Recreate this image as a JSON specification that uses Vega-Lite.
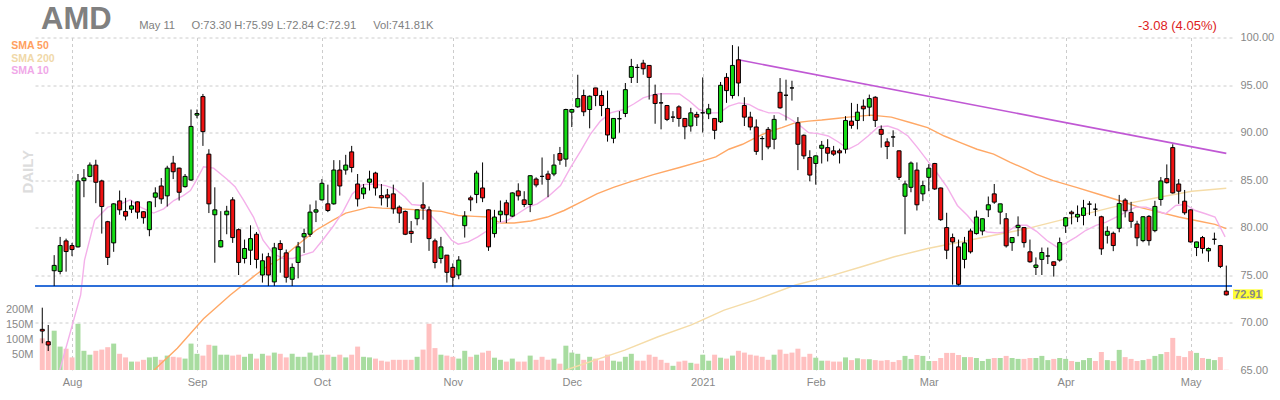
{
  "$schema": "https://vega.github.io/schema/vega-lite/v6.json",
  "width": 1197,
  "height": 332.5,
  "autosize": {"type": "none"},
  "padding": {"left": 35, "top": 37.5, "right": 48, "bottom": 30},
  "background": "white",
  "config": {
    "view": {"stroke": null},
    "font": "Liberation Sans",
    "axis": {"labelFont": "Liberation Sans", "labelFontSize": 11, "labelColor": "#888888", "domain": false, "ticks": false, "title": null}
  },
  "datasets": {
    "px": [
      {"date": "2020-07-27", "n": -2, "o": 69.28, "h": 71.56, "l": 67.81, "c": 69.1, "v": 105.6, "dir": "d"},
      {"date": "2020-07-28", "n": -1, "o": 67.98, "h": 69.74, "l": 67.0, "c": 67.63, "v": 95, "dir": "d"},
      {"date": "2020-07-29", "n": 0, "o": 75.45, "h": 77.09, "l": 73.85, "c": 76.01, "v": 131, "dir": "u"},
      {"date": "2020-07-30", "n": 1, "o": 75.38, "h": 79.01, "l": 75.07, "c": 78.1, "v": 78, "dir": "u"},
      {"date": "2020-07-31", "n": 2, "o": 78.59, "h": 78.83, "l": 75.35, "c": 77.47, "v": 71, "dir": "d"},
      {"date": "2020-08-03", "n": 3, "o": 78.1, "h": 78.38, "l": 76.99, "c": 77.68, "v": 42, "dir": "d"},
      {"date": "2020-08-04", "n": 4, "o": 77.96, "h": 85.63, "l": 77.9, "c": 84.9, "v": 154, "dir": "u"},
      {"date": "2020-08-05", "n": 5, "o": 84.93, "h": 86.15, "l": 83.19, "c": 85.21, "v": 64, "dir": "u"},
      {"date": "2020-08-06", "n": 6, "o": 85.38, "h": 86.85, "l": 85.3, "c": 86.57, "v": 51, "dir": "u"},
      {"date": "2020-08-07", "n": 7, "o": 86.57, "h": 87.13, "l": 82.56, "c": 84.76, "v": 64, "dir": "d"},
      {"date": "2020-08-10", "n": 8, "o": 84.9, "h": 85.03, "l": 79.36, "c": 82.21, "v": 68, "dir": "d"},
      {"date": "2020-08-11", "n": 9, "o": 80.61, "h": 80.7, "l": 76.05, "c": 76.85, "v": 76, "dir": "d"},
      {"date": "2020-08-12", "n": 10, "o": 78.38, "h": 82.55, "l": 77.44, "c": 82.49, "v": 88, "dir": "u"},
      {"date": "2020-08-13", "n": 11, "o": 82.8, "h": 83.89, "l": 81.34, "c": 81.86, "v": 54, "dir": "d"},
      {"date": "2020-08-14", "n": 12, "o": 81.69, "h": 83.12, "l": 80.75, "c": 81.2, "v": 42, "dir": "d"},
      {"date": "2020-08-17", "n": 13, "o": 81.93, "h": 82.84, "l": 81.52, "c": 82.28, "v": 28, "dir": "u"},
      {"date": "2020-08-18", "n": 14, "o": 82.7, "h": 82.75, "l": 80.92, "c": 81.62, "v": 28, "dir": "d"},
      {"date": "2020-08-19", "n": 15, "o": 81.66, "h": 81.7, "l": 80.4, "c": 81.03, "v": 34, "dir": "d"},
      {"date": "2020-08-20", "n": 16, "o": 79.77, "h": 82.75, "l": 79.08, "c": 82.7, "v": 42, "dir": "u"},
      {"date": "2020-08-21", "n": 17, "o": 83.19, "h": 84.23, "l": 82.14, "c": 83.64, "v": 44, "dir": "u"},
      {"date": "2020-08-24", "n": 18, "o": 84.37, "h": 85.21, "l": 82.49, "c": 83.01, "v": 34, "dir": "d"},
      {"date": "2020-08-25", "n": 19, "o": 83.33, "h": 86.5, "l": 82.21, "c": 86.25, "v": 48, "dir": "u"},
      {"date": "2020-08-26", "n": 20, "o": 86.78, "h": 87.54, "l": 85.1, "c": 85.87, "v": 44, "dir": "d"},
      {"date": "2020-08-27", "n": 21, "o": 86.25, "h": 86.3, "l": 82.84, "c": 83.71, "v": 42, "dir": "d"},
      {"date": "2020-08-28", "n": 22, "o": 84.3, "h": 85.63, "l": 84.2, "c": 85.38, "v": 38, "dir": "u"},
      {"date": "2020-08-31", "n": 23, "o": 85.0, "h": 92.42, "l": 84.9, "c": 90.64, "v": 88, "dir": "u"},
      {"date": "2020-09-01", "n": 24, "o": 91.83, "h": 92.42, "l": 91.5, "c": 92.0, "v": 54, "dir": "u"},
      {"date": "2020-09-02", "n": 25, "o": 93.78, "h": 94.06, "l": 88.59, "c": 90.09, "v": 48, "dir": "d"},
      {"date": "2020-09-03", "n": 26, "o": 87.72, "h": 88.24, "l": 81.52, "c": 82.49, "v": 84, "dir": "d"},
      {"date": "2020-09-04", "n": 27, "o": 81.34, "h": 84.23, "l": 76.29, "c": 81.86, "v": 81, "dir": "u"},
      {"date": "2020-09-08", "n": 28, "o": 77.96, "h": 81.72, "l": 77.9, "c": 78.62, "v": 51, "dir": "u"},
      {"date": "2020-09-09", "n": 29, "o": 81.34, "h": 82.28, "l": 79.29, "c": 81.72, "v": 51, "dir": "u"},
      {"date": "2020-09-10", "n": 30, "o": 82.91, "h": 83.19, "l": 78.38, "c": 78.94, "v": 48, "dir": "d"},
      {"date": "2020-09-11", "n": 31, "o": 79.77, "h": 79.9, "l": 75.0, "c": 76.32, "v": 51, "dir": "d"},
      {"date": "2020-09-14", "n": 32, "o": 76.74, "h": 78.73, "l": 76.22, "c": 77.79, "v": 44, "dir": "u"},
      {"date": "2020-09-15", "n": 33, "o": 77.61, "h": 80.23, "l": 76.05, "c": 78.83, "v": 54, "dir": "u"},
      {"date": "2020-09-16", "n": 34, "o": 79.29, "h": 79.53, "l": 75.7, "c": 76.64, "v": 38, "dir": "d"},
      {"date": "2020-09-17", "n": 35, "o": 75.0, "h": 77.26, "l": 74.2, "c": 76.5, "v": 54, "dir": "u"},
      {"date": "2020-09-18", "n": 36, "o": 76.92, "h": 77.33, "l": 73.85, "c": 75.0, "v": 48, "dir": "d"},
      {"date": "2020-09-21", "n": 37, "o": 74.27, "h": 78.38, "l": 73.85, "c": 77.86, "v": 58, "dir": "u"},
      {"date": "2020-09-22", "n": 38, "o": 78.31, "h": 78.66, "l": 75.24, "c": 77.68, "v": 54, "dir": "d"},
      {"date": "2020-09-23", "n": 39, "o": 77.33, "h": 77.68, "l": 74.2, "c": 74.76, "v": 42, "dir": "d"},
      {"date": "2020-09-24", "n": 40, "o": 74.55, "h": 76.22, "l": 73.85, "c": 75.8, "v": 54, "dir": "u"},
      {"date": "2020-09-25", "n": 41, "o": 76.32, "h": 78.48, "l": 74.65, "c": 77.96, "v": 44, "dir": "u"},
      {"date": "2020-09-28", "n": 42, "o": 79.01, "h": 79.88, "l": 77.33, "c": 79.36, "v": 44, "dir": "u"},
      {"date": "2020-09-29", "n": 43, "o": 79.29, "h": 82.42, "l": 79.0, "c": 81.62, "v": 58, "dir": "u"},
      {"date": "2020-09-30", "n": 44, "o": 81.62, "h": 82.84, "l": 80.57, "c": 81.86, "v": 48, "dir": "u"},
      {"date": "2020-10-01", "n": 45, "o": 82.91, "h": 85.1, "l": 82.84, "c": 84.65, "v": 51, "dir": "u"},
      {"date": "2020-10-02", "n": 46, "o": 82.49, "h": 84.51, "l": 81.62, "c": 81.79, "v": 51, "dir": "d"},
      {"date": "2020-10-05", "n": 47, "o": 82.49, "h": 87.09, "l": 82.4, "c": 86.05, "v": 44, "dir": "u"},
      {"date": "2020-10-06", "n": 48, "o": 86.05, "h": 87.09, "l": 83.36, "c": 84.37, "v": 51, "dir": "d"},
      {"date": "2020-10-07", "n": 49, "o": 86.05, "h": 87.65, "l": 85.56, "c": 86.57, "v": 42, "dir": "u"},
      {"date": "2020-10-08", "n": 50, "o": 87.96, "h": 88.59, "l": 85.8, "c": 86.32, "v": 51, "dir": "d"},
      {"date": "2020-10-09", "n": 51, "o": 84.58, "h": 85.63, "l": 82.21, "c": 83.01, "v": 78, "dir": "d"},
      {"date": "2020-10-12", "n": 52, "o": 83.54, "h": 84.58, "l": 83.01, "c": 84.16, "v": 44, "dir": "u"},
      {"date": "2020-10-13", "n": 53, "o": 84.76, "h": 85.98, "l": 83.89, "c": 85.1, "v": 42, "dir": "u"},
      {"date": "2020-10-14", "n": 54, "o": 85.73, "h": 85.87, "l": 83.36, "c": 84.16, "v": 38, "dir": "d"},
      {"date": "2020-10-15", "n": 55, "o": 83.36, "h": 84.58, "l": 82.32, "c": 83.12, "v": 31, "dir": "d"},
      {"date": "2020-10-16", "n": 56, "o": 83.43, "h": 84.06, "l": 82.14, "c": 83.12, "v": 28, "dir": "d"},
      {"date": "2020-10-19", "n": 57, "o": 83.54, "h": 84.51, "l": 81.45, "c": 81.97, "v": 34, "dir": "d"},
      {"date": "2020-10-20", "n": 58, "o": 82.14, "h": 82.32, "l": 80.47, "c": 81.52, "v": 34, "dir": "d"},
      {"date": "2020-10-21", "n": 59, "o": 81.69, "h": 81.79, "l": 79.2, "c": 79.29, "v": 34, "dir": "d"},
      {"date": "2020-10-22", "n": 60, "o": 79.6, "h": 80.68, "l": 78.38, "c": 79.36, "v": 34, "dir": "d"},
      {"date": "2020-10-23", "n": 61, "o": 80.92, "h": 81.9, "l": 80.23, "c": 81.86, "v": 44, "dir": "u"},
      {"date": "2020-10-26", "n": 62, "o": 82.39, "h": 84.76, "l": 80.82, "c": 82.04, "v": 68, "dir": "d"},
      {"date": "2020-10-27", "n": 63, "o": 81.86, "h": 82.21, "l": 77.54, "c": 78.83, "v": 154, "dir": "d"},
      {"date": "2020-10-28", "n": 64, "o": 78.59, "h": 78.83, "l": 75.7, "c": 76.32, "v": 73, "dir": "d"},
      {"date": "2020-10-29", "n": 65, "o": 76.74, "h": 79.01, "l": 76.22, "c": 77.96, "v": 51, "dir": "u"},
      {"date": "2020-10-30", "n": 66, "o": 77.09, "h": 77.1, "l": 74.2, "c": 75.28, "v": 48, "dir": "d"},
      {"date": "2020-11-02", "n": 67, "o": 75.8, "h": 76.22, "l": 73.78, "c": 74.76, "v": 44, "dir": "d"},
      {"date": "2020-11-03", "n": 68, "o": 75.0, "h": 76.99, "l": 74.55, "c": 76.57, "v": 38, "dir": "u"},
      {"date": "2020-11-04", "n": 69, "o": 80.19, "h": 81.72, "l": 78.94, "c": 81.2, "v": 64, "dir": "u"},
      {"date": "2020-11-05", "n": 70, "o": 83.12, "h": 83.36, "l": 81.72, "c": 82.91, "v": 44, "dir": "d"},
      {"date": "2020-11-06", "n": 71, "o": 83.47, "h": 85.98, "l": 82.56, "c": 85.73, "v": 51, "dir": "u"},
      {"date": "2020-11-09", "n": 72, "o": 84.16, "h": 86.85, "l": 82.67, "c": 83.12, "v": 58, "dir": "d"},
      {"date": "2020-11-10", "n": 73, "o": 81.86, "h": 81.9, "l": 77.54, "c": 77.96, "v": 64, "dir": "d"},
      {"date": "2020-11-11", "n": 74, "o": 79.36, "h": 81.86, "l": 78.94, "c": 81.1, "v": 41, "dir": "u"},
      {"date": "2020-11-12", "n": 75, "o": 81.34, "h": 82.84, "l": 80.57, "c": 81.72, "v": 34, "dir": "u"},
      {"date": "2020-11-13", "n": 76, "o": 82.6, "h": 82.91, "l": 80.47, "c": 81.34, "v": 28, "dir": "d"},
      {"date": "2020-11-16", "n": 77, "o": 81.2, "h": 83.7, "l": 81.1, "c": 83.64, "v": 38, "dir": "u"},
      {"date": "2020-11-17", "n": 78, "o": 83.85, "h": 84.65, "l": 82.84, "c": 83.33, "v": 28, "dir": "d"},
      {"date": "2020-11-18", "n": 79, "o": 82.91, "h": 83.82, "l": 82.14, "c": 82.42, "v": 28, "dir": "d"},
      {"date": "2020-11-19", "n": 80, "o": 82.42, "h": 85.5, "l": 81.62, "c": 85.45, "v": 48, "dir": "u"},
      {"date": "2020-11-20", "n": 81, "o": 85.1, "h": 85.28, "l": 84.23, "c": 84.48, "v": 34, "dir": "d"},
      {"date": "2020-11-23", "n": 82, "o": 85.38, "h": 87.37, "l": 84.51, "c": 85.38, "v": 44, "dir": "d"},
      {"date": "2020-11-24", "n": 83, "o": 85.63, "h": 85.98, "l": 83.19, "c": 85.07, "v": 34, "dir": "d"},
      {"date": "2020-11-25", "n": 84, "o": 85.63, "h": 87.72, "l": 85.4, "c": 86.57, "v": 38, "dir": "u"},
      {"date": "2020-11-27", "n": 85, "o": 87.79, "h": 88.48, "l": 86.6, "c": 87.09, "v": 21, "dir": "d"},
      {"date": "2020-11-30", "n": 86, "o": 87.2, "h": 92.5, "l": 86.39, "c": 92.42, "v": 81, "dir": "u"},
      {"date": "2020-12-01", "n": 87, "o": 92.14, "h": 92.5, "l": 90.57, "c": 92.42, "v": 58, "dir": "u"},
      {"date": "2020-12-02", "n": 88, "o": 92.7, "h": 96.08, "l": 92.6, "c": 93.57, "v": 54, "dir": "u"},
      {"date": "2020-12-03", "n": 89, "o": 93.89, "h": 94.51, "l": 91.72, "c": 92.18, "v": 34, "dir": "d"},
      {"date": "2020-12-04", "n": 90, "o": 92.42, "h": 93.9, "l": 90.44, "c": 93.82, "v": 44, "dir": "u"},
      {"date": "2020-12-07", "n": 91, "o": 94.69, "h": 94.7, "l": 92.77, "c": 93.89, "v": 38, "dir": "d"},
      {"date": "2020-12-08", "n": 92, "o": 93.89, "h": 94.41, "l": 91.72, "c": 92.84, "v": 31, "dir": "d"},
      {"date": "2020-12-09", "n": 93, "o": 92.53, "h": 94.41, "l": 89.04, "c": 89.74, "v": 51, "dir": "d"},
      {"date": "2020-12-10", "n": 94, "o": 89.39, "h": 91.5, "l": 88.87, "c": 91.48, "v": 31, "dir": "u"},
      {"date": "2020-12-11", "n": 95, "o": 91.45, "h": 92.25, "l": 89.98, "c": 91.45, "v": 28, "dir": "u"},
      {"date": "2020-12-14", "n": 96, "o": 92.0, "h": 95.21, "l": 91.62, "c": 94.51, "v": 44, "dir": "u"},
      {"date": "2020-12-15", "n": 97, "o": 95.8, "h": 97.75, "l": 95.21, "c": 96.95, "v": 54, "dir": "u"},
      {"date": "2020-12-16", "n": 98, "o": 96.85, "h": 97.19, "l": 95.21, "c": 96.85, "v": 31, "dir": "d"},
      {"date": "2020-12-17", "n": 99, "o": 97.3, "h": 97.65, "l": 96.08, "c": 96.71, "v": 31, "dir": "d"},
      {"date": "2020-12-18", "n": 100, "o": 97.06, "h": 97.1, "l": 93.47, "c": 95.8, "v": 51, "dir": "d"},
      {"date": "2020-12-21", "n": 101, "o": 93.99, "h": 95.04, "l": 90.92, "c": 93.05, "v": 44, "dir": "d"},
      {"date": "2020-12-22", "n": 102, "o": 93.12, "h": 94.16, "l": 90.33, "c": 93.12, "v": 34, "dir": "d"},
      {"date": "2020-12-23", "n": 103, "o": 92.84, "h": 92.9, "l": 91.2, "c": 91.38, "v": 24, "dir": "d"},
      {"date": "2020-12-24", "n": 104, "o": 91.62, "h": 92.25, "l": 91.1, "c": 91.62, "v": 14, "dir": "u"},
      {"date": "2020-12-28", "n": 105, "o": 92.7, "h": 92.87, "l": 90.61, "c": 91.48, "v": 28, "dir": "d"},
      {"date": "2020-12-29", "n": 106, "o": 91.48, "h": 91.5, "l": 89.29, "c": 90.61, "v": 31, "dir": "d"},
      {"date": "2020-12-30", "n": 107, "o": 90.68, "h": 92.6, "l": 90.09, "c": 92.07, "v": 24, "dir": "u"},
      {"date": "2020-12-31", "n": 108, "o": 91.9, "h": 92.18, "l": 90.68, "c": 91.62, "v": 21, "dir": "d"},
      {"date": "2021-01-04", "n": 109, "o": 92.07, "h": 95.8, "l": 90.0, "c": 92.07, "v": 51, "dir": "u"},
      {"date": "2021-01-05", "n": 110, "o": 91.97, "h": 93.01, "l": 91.41, "c": 92.49, "v": 31, "dir": "u"},
      {"date": "2021-01-06", "n": 111, "o": 91.48, "h": 91.5, "l": 89.29, "c": 90.23, "v": 51, "dir": "d"},
      {"date": "2021-01-07", "n": 112, "o": 91.13, "h": 95.32, "l": 91.0, "c": 94.97, "v": 41, "dir": "u"},
      {"date": "2021-01-08", "n": 113, "o": 95.8, "h": 96.25, "l": 93.12, "c": 94.41, "v": 38, "dir": "d"},
      {"date": "2021-01-11", "n": 114, "o": 93.89, "h": 99.2, "l": 93.57, "c": 97.06, "v": 48, "dir": "u"},
      {"date": "2021-01-12", "n": 115, "o": 97.65, "h": 99.06, "l": 93.82, "c": 95.21, "v": 64, "dir": "d"},
      {"date": "2021-01-13", "n": 116, "o": 92.84, "h": 93.71, "l": 90.68, "c": 91.62, "v": 58, "dir": "d"},
      {"date": "2021-01-14", "n": 117, "o": 91.62, "h": 92.18, "l": 90.23, "c": 90.58, "v": 51, "dir": "d"},
      {"date": "2021-01-15", "n": 118, "o": 90.58, "h": 91.38, "l": 87.65, "c": 88.01, "v": 48, "dir": "d"},
      {"date": "2021-01-19", "n": 119, "o": 89.36, "h": 89.63, "l": 87.09, "c": 89.36, "v": 44, "dir": "d"},
      {"date": "2021-01-20", "n": 120, "o": 90.33, "h": 90.58, "l": 88.24, "c": 88.48, "v": 34, "dir": "d"},
      {"date": "2021-01-21", "n": 121, "o": 89.29, "h": 91.83, "l": 88.24, "c": 91.38, "v": 51, "dir": "u"},
      {"date": "2021-01-22", "n": 122, "o": 94.23, "h": 95.73, "l": 92.5, "c": 92.6, "v": 68, "dir": "d"},
      {"date": "2021-01-25", "n": 123, "o": 93.92, "h": 95.56, "l": 91.27, "c": 93.92, "v": 54, "dir": "d"},
      {"date": "2021-01-26", "n": 124, "o": 94.69, "h": 95.45, "l": 93.36, "c": 94.69, "v": 58, "dir": "d"},
      {"date": "2021-01-27", "n": 125, "o": 91.03, "h": 91.62, "l": 86.04, "c": 88.76, "v": 71, "dir": "d"},
      {"date": "2021-01-28", "n": 126, "o": 89.71, "h": 89.8, "l": 87.2, "c": 87.54, "v": 44, "dir": "d"},
      {"date": "2021-01-29", "n": 127, "o": 87.37, "h": 88.13, "l": 84.86, "c": 85.52, "v": 54, "dir": "d"},
      {"date": "2021-02-01", "n": 128, "o": 86.74, "h": 87.6, "l": 84.51, "c": 87.54, "v": 41, "dir": "u"},
      {"date": "2021-02-02", "n": 129, "o": 88.34, "h": 89.11, "l": 86.74, "c": 88.66, "v": 31, "dir": "u"},
      {"date": "2021-02-03", "n": 130, "o": 88.41, "h": 89.29, "l": 86.95, "c": 87.82, "v": 31, "dir": "d"},
      {"date": "2021-02-04", "n": 131, "o": 88.07, "h": 88.59, "l": 87.54, "c": 87.72, "v": 28, "dir": "d"},
      {"date": "2021-02-05", "n": 132, "o": 88.07, "h": 88.3, "l": 86.74, "c": 87.86, "v": 28, "dir": "d"},
      {"date": "2021-02-08", "n": 133, "o": 88.24, "h": 91.72, "l": 87.79, "c": 91.27, "v": 42, "dir": "u"},
      {"date": "2021-02-09", "n": 134, "o": 91.2, "h": 93.12, "l": 90.4, "c": 90.75, "v": 33, "dir": "d"},
      {"date": "2021-02-10", "n": 135, "o": 91.27, "h": 93.01, "l": 90.33, "c": 92.14, "v": 39, "dir": "u"},
      {"date": "2021-02-11", "n": 136, "o": 92.77, "h": 93.47, "l": 91.2, "c": 92.49, "v": 36, "dir": "d"},
      {"date": "2021-02-12", "n": 137, "o": 92.67, "h": 93.99, "l": 91.72, "c": 93.57, "v": 36, "dir": "u"},
      {"date": "2021-02-16", "n": 138, "o": 93.71, "h": 93.82, "l": 90.58, "c": 91.27, "v": 33, "dir": "d"},
      {"date": "2021-02-17", "n": 139, "o": 90.33, "h": 90.75, "l": 88.41, "c": 89.81, "v": 31, "dir": "d"},
      {"date": "2021-02-18", "n": 140, "o": 89.01, "h": 89.39, "l": 87.2, "c": 88.52, "v": 33, "dir": "d"},
      {"date": "2021-02-19", "n": 141, "o": 89.53, "h": 90.23, "l": 88.48, "c": 89.53, "v": 27, "dir": "d"},
      {"date": "2021-02-22", "n": 142, "o": 88.07, "h": 88.1, "l": 85.0, "c": 85.28, "v": 33, "dir": "d"},
      {"date": "2021-02-23", "n": 143, "o": 83.29, "h": 84.93, "l": 79.29, "c": 84.58, "v": 47, "dir": "u"},
      {"date": "2021-02-24", "n": 144, "o": 84.23, "h": 86.95, "l": 83.71, "c": 86.78, "v": 37, "dir": "u"},
      {"date": "2021-02-25", "n": 145, "o": 86.04, "h": 86.85, "l": 81.79, "c": 82.39, "v": 50, "dir": "d"},
      {"date": "2021-02-26", "n": 146, "o": 83.54, "h": 84.93, "l": 82.77, "c": 84.41, "v": 47, "dir": "u"},
      {"date": "2021-03-01", "n": 147, "o": 85.28, "h": 86.67, "l": 83.82, "c": 86.25, "v": 30, "dir": "u"},
      {"date": "2021-03-02", "n": 148, "o": 86.74, "h": 86.8, "l": 83.95, "c": 84.06, "v": 30, "dir": "d"},
      {"date": "2021-03-03", "n": 149, "o": 84.16, "h": 84.2, "l": 80.7, "c": 80.82, "v": 40, "dir": "d"},
      {"date": "2021-03-04", "n": 150, "o": 79.99, "h": 81.55, "l": 76.67, "c": 77.61, "v": 57, "dir": "d"},
      {"date": "2021-03-05", "n": 151, "o": 78.94, "h": 79.36, "l": 73.99, "c": 78.48, "v": 57, "dir": "d"},
      {"date": "2021-03-08", "n": 152, "o": 77.96, "h": 78.73, "l": 73.89, "c": 74.02, "v": 50, "dir": "d"},
      {"date": "2021-03-09", "n": 153, "o": 76.64, "h": 79.01, "l": 75.7, "c": 78.38, "v": 43, "dir": "u"},
      {"date": "2021-03-10", "n": 154, "o": 79.63, "h": 79.88, "l": 77.26, "c": 77.44, "v": 43, "dir": "d"},
      {"date": "2021-03-11", "n": 155, "o": 79.36, "h": 81.79, "l": 79.25, "c": 81.1, "v": 40, "dir": "u"},
      {"date": "2021-03-12", "n": 156, "o": 79.63, "h": 80.95, "l": 79.18, "c": 80.92, "v": 30, "dir": "u"},
      {"date": "2021-03-15", "n": 157, "o": 81.86, "h": 83.26, "l": 81.1, "c": 82.39, "v": 37, "dir": "u"},
      {"date": "2021-03-16", "n": 158, "o": 83.54, "h": 84.58, "l": 82.49, "c": 82.67, "v": 40, "dir": "d"},
      {"date": "2021-03-17", "n": 159, "o": 81.62, "h": 82.5, "l": 80.33, "c": 82.49, "v": 40, "dir": "u"},
      {"date": "2021-03-18", "n": 160, "o": 80.92, "h": 81.52, "l": 77.89, "c": 78.07, "v": 47, "dir": "d"},
      {"date": "2021-03-19", "n": 161, "o": 78.41, "h": 79.0, "l": 77.54, "c": 78.94, "v": 40, "dir": "u"},
      {"date": "2021-03-22", "n": 162, "o": 79.99, "h": 81.17, "l": 79.08, "c": 80.23, "v": 37, "dir": "u"},
      {"date": "2021-03-23", "n": 163, "o": 79.99, "h": 80.05, "l": 77.89, "c": 78.41, "v": 37, "dir": "d"},
      {"date": "2021-03-24", "n": 164, "o": 77.44, "h": 78.73, "l": 76.29, "c": 76.39, "v": 40, "dir": "d"},
      {"date": "2021-03-25", "n": 165, "o": 75.8, "h": 76.85, "l": 75.0, "c": 76.05, "v": 40, "dir": "u"},
      {"date": "2021-03-26", "n": 166, "o": 76.64, "h": 77.89, "l": 75.0, "c": 77.37, "v": 47, "dir": "u"},
      {"date": "2021-03-29", "n": 167, "o": 77.0, "h": 77.89, "l": 76.15, "c": 77.0, "v": 33, "dir": "u"},
      {"date": "2021-03-30", "n": 168, "o": 76.39, "h": 76.4, "l": 74.83, "c": 76.01, "v": 37, "dir": "d"},
      {"date": "2021-03-31", "n": 169, "o": 76.57, "h": 78.94, "l": 76.4, "c": 78.41, "v": 40, "dir": "u"},
      {"date": "2021-04-01", "n": 170, "o": 80.16, "h": 81.1, "l": 79.43, "c": 81.03, "v": 37, "dir": "u"},
      {"date": "2021-04-05", "n": 171, "o": 81.62, "h": 81.79, "l": 80.33, "c": 81.45, "v": 30, "dir": "d"},
      {"date": "2021-04-06", "n": 172, "o": 81.1, "h": 82.32, "l": 80.57, "c": 81.38, "v": 27, "dir": "u"},
      {"date": "2021-04-07", "n": 173, "o": 81.27, "h": 82.91, "l": 80.23, "c": 82.07, "v": 33, "dir": "u"},
      {"date": "2021-04-08", "n": 174, "o": 82.46, "h": 82.77, "l": 81.31, "c": 82.46, "v": 40, "dir": "u"},
      {"date": "2021-04-09", "n": 175, "o": 81.93, "h": 82.53, "l": 81.2, "c": 81.93, "v": 30, "dir": "d"},
      {"date": "2021-04-12", "n": 176, "o": 81.13, "h": 81.24, "l": 77.12, "c": 77.75, "v": 60, "dir": "d"},
      {"date": "2021-04-13", "n": 177, "o": 79.18, "h": 80.12, "l": 78.31, "c": 79.6, "v": 33, "dir": "u"},
      {"date": "2021-04-14", "n": 178, "o": 79.39, "h": 79.57, "l": 77.51, "c": 78.1, "v": 30, "dir": "d"},
      {"date": "2021-04-15", "n": 179, "o": 79.92, "h": 83.43, "l": 79.5, "c": 82.53, "v": 67, "dir": "u"},
      {"date": "2021-04-16", "n": 180, "o": 82.88, "h": 83.08, "l": 81.06, "c": 81.76, "v": 43, "dir": "d"},
      {"date": "2021-04-19", "n": 181, "o": 81.59, "h": 82.7, "l": 79.96, "c": 80.65, "v": 37, "dir": "d"},
      {"date": "2021-04-20", "n": 182, "o": 80.37, "h": 80.71, "l": 78.03, "c": 78.91, "v": 30, "dir": "d"},
      {"date": "2021-04-21", "n": 183, "o": 78.62, "h": 81.2, "l": 78.45, "c": 81.13, "v": 33, "dir": "u"},
      {"date": "2021-04-22", "n": 184, "o": 81.17, "h": 81.31, "l": 78.1, "c": 78.62, "v": 37, "dir": "d"},
      {"date": "2021-04-23", "n": 185, "o": 79.67, "h": 82.81, "l": 79.5, "c": 82.22, "v": 47, "dir": "u"},
      {"date": "2021-04-26", "n": 186, "o": 82.95, "h": 85.31, "l": 82.29, "c": 84.9, "v": 53, "dir": "u"},
      {"date": "2021-04-27", "n": 187, "o": 85.14, "h": 86.64, "l": 84.62, "c": 84.72, "v": 60, "dir": "d"},
      {"date": "2021-04-28", "n": 188, "o": 88.41, "h": 88.76, "l": 83.57, "c": 83.64, "v": 107, "dir": "d"},
      {"date": "2021-04-29", "n": 189, "o": 84.58, "h": 85.1, "l": 82.49, "c": 83.82, "v": 47, "dir": "d"},
      {"date": "2021-04-30", "n": 190, "o": 82.77, "h": 83.95, "l": 81.34, "c": 81.55, "v": 43, "dir": "d"},
      {"date": "2021-05-03", "n": 191, "o": 81.86, "h": 81.9, "l": 78.41, "c": 78.48, "v": 63, "dir": "d"},
      {"date": "2021-05-04", "n": 192, "o": 77.89, "h": 78.5, "l": 76.99, "c": 78.48, "v": 57, "dir": "u"},
      {"date": "2021-05-05", "n": 193, "o": 78.94, "h": 79.11, "l": 77.26, "c": 77.79, "v": 40, "dir": "d"},
      {"date": "2021-05-06", "n": 194, "o": 77.54, "h": 77.9, "l": 76.39, "c": 77.79, "v": 37, "dir": "u"},
      {"date": "2021-05-07", "n": 195, "o": 78.76, "h": 79.46, "l": 78.2, "c": 78.76, "v": 33, "dir": "u"},
      {"date": "2021-05-10", "n": 196, "o": 78.1, "h": 78.17, "l": 75.73, "c": 75.9, "v": 43, "dir": "d"},
      {"date": "2021-05-11", "n": 197, "o": 73.3, "h": 75.99, "l": 72.84, "c": 72.91, "v": 0.74, "dir": "d"}
    ],
    "sma": [
      {"s": "SMA 10", "n": 0.95, "v": 65.0}, {"s": "SMA 10", "n": 4.45, "v": 72.9}, {"s": "SMA 10", "n": 5.1, "v": 76.57},
      {"s": "SMA 10", "n": 6.8, "v": 80.75}, {"s": "SMA 10", "n": 9.0, "v": 82.14}, {"s": "SMA 10", "n": 11.2, "v": 82.49},
      {"s": "SMA 10", "n": 12.8, "v": 82.91}, {"s": "SMA 10", "n": 14.5, "v": 82.14}, {"s": "SMA 10", "n": 16.7, "v": 81.52},
      {"s": "SMA 10", "n": 18.4, "v": 81.97}, {"s": "SMA 10", "n": 20.1, "v": 82.84}, {"s": "SMA 10", "n": 21.7, "v": 83.36},
      {"s": "SMA 10", "n": 22.9, "v": 83.89}, {"s": "SMA 10", "n": 24.0, "v": 85.1}, {"s": "SMA 10", "n": 25.1, "v": 86.39},
      {"s": "SMA 10", "n": 26.8, "v": 86.25}, {"s": "SMA 10", "n": 29.0, "v": 85.1}, {"s": "SMA 10", "n": 30.4, "v": 84.3},
      {"s": "SMA 10", "n": 31.8, "v": 82.9}, {"s": "SMA 10", "n": 33.5, "v": 81.1}, {"s": "SMA 10", "n": 35.1, "v": 78.66},
      {"s": "SMA 10", "n": 36.8, "v": 77.26}, {"s": "SMA 10", "n": 38.5, "v": 76.74}, {"s": "SMA 10", "n": 40.1, "v": 76.74},
      {"s": "SMA 10", "n": 41.8, "v": 77.09}, {"s": "SMA 10", "n": 43.5, "v": 77.44}, {"s": "SMA 10", "n": 45.1, "v": 78.66},
      {"s": "SMA 10", "n": 46.8, "v": 80.05}, {"s": "SMA 10", "n": 48.5, "v": 81.62}, {"s": "SMA 10", "n": 50.1, "v": 83.54},
      {"s": "SMA 10", "n": 51.8, "v": 84.51}, {"s": "SMA 10", "n": 53.5, "v": 84.58}, {"s": "SMA 10", "n": 55.7, "v": 84.41},
      {"s": "SMA 10", "n": 57.3, "v": 84.06}, {"s": "SMA 10", "n": 59.0, "v": 83.19}, {"s": "SMA 10", "n": 60.1, "v": 82.42},
      {"s": "SMA 10", "n": 61.8, "v": 82.32}, {"s": "SMA 10", "n": 63.5, "v": 81.14}, {"s": "SMA 10", "n": 65.1, "v": 80.05},
      {"s": "SMA 10", "n": 66.8, "v": 78.66}, {"s": "SMA 10", "n": 67.9, "v": 78.24}, {"s": "SMA 10", "n": 69.6, "v": 78.48},
      {"s": "SMA 10", "n": 71.2, "v": 79.01}, {"s": "SMA 10", "n": 72.9, "v": 79.71}, {"s": "SMA 10", "n": 74.6, "v": 80.47},
      {"s": "SMA 10", "n": 76.2, "v": 80.75}, {"s": "SMA 10", "n": 77.9, "v": 81.45}, {"s": "SMA 10", "n": 79.6, "v": 82.14},
      {"s": "SMA 10", "n": 81.2, "v": 82.49}, {"s": "SMA 10", "n": 82.9, "v": 83.19}, {"s": "SMA 10", "n": 85.1, "v": 84.41},
      {"s": "SMA 10", "n": 86.8, "v": 86.32}, {"s": "SMA 10", "n": 88.5, "v": 88.07}, {"s": "SMA 10", "n": 90.1, "v": 89.81},
      {"s": "SMA 10", "n": 91.8, "v": 91.2}, {"s": "SMA 10", "n": 93.5, "v": 92.07}, {"s": "SMA 10", "n": 95.7, "v": 92.42},
      {"s": "SMA 10", "n": 97.4, "v": 93.0}, {"s": "SMA 10", "n": 99.0, "v": 93.64}, {"s": "SMA 10", "n": 101.2, "v": 94.06},
      {"s": "SMA 10", "n": 102.9, "v": 94.09}, {"s": "SMA 10", "n": 105.1, "v": 94.06}, {"s": "SMA 10", "n": 106.8, "v": 93.29},
      {"s": "SMA 10", "n": 108.4, "v": 92.42}, {"s": "SMA 10", "n": 110.1, "v": 92.07}, {"s": "SMA 10", "n": 111.8, "v": 92.07},
      {"s": "SMA 10", "n": 113.4, "v": 92.77}, {"s": "SMA 10", "n": 115.1, "v": 93.12}, {"s": "SMA 10", "n": 116.8, "v": 92.95},
      {"s": "SMA 10", "n": 118.4, "v": 92.42}, {"s": "SMA 10", "n": 120.1, "v": 92.07}, {"s": "SMA 10", "n": 121.8, "v": 92.07},
      {"s": "SMA 10", "n": 123.4, "v": 91.55}, {"s": "SMA 10", "n": 125.1, "v": 90.85}, {"s": "SMA 10", "n": 126.8, "v": 89.98},
      {"s": "SMA 10", "n": 128.4, "v": 89.88}, {"s": "SMA 10", "n": 130.1, "v": 89.63}, {"s": "SMA 10", "n": 131.8, "v": 89.0},
      {"s": "SMA 10", "n": 133.5, "v": 88.24}, {"s": "SMA 10", "n": 135.1, "v": 88.76}, {"s": "SMA 10", "n": 136.8, "v": 89.63},
      {"s": "SMA 10", "n": 138.5, "v": 90.58}, {"s": "SMA 10", "n": 140.1, "v": 90.68}, {"s": "SMA 10", "n": 141.8, "v": 90.33},
      {"s": "SMA 10", "n": 143.5, "v": 89.63}, {"s": "SMA 10", "n": 145.1, "v": 88.41}, {"s": "SMA 10", "n": 146.8, "v": 87.02},
      {"s": "SMA 10", "n": 148.5, "v": 85.63}, {"s": "SMA 10", "n": 150.1, "v": 84.23}, {"s": "SMA 10", "n": 151.8, "v": 82.32},
      {"s": "SMA 10", "n": 153.5, "v": 81.27}, {"s": "SMA 10", "n": 155.1, "v": 80.05}, {"s": "SMA 10", "n": 156.8, "v": 79.53},
      {"s": "SMA 10", "n": 158.5, "v": 79.43}, {"s": "SMA 10", "n": 160.1, "v": 79.53}, {"s": "SMA 10", "n": 161.8, "v": 80.23},
      {"s": "SMA 10", "n": 163.5, "v": 80.23}, {"s": "SMA 10", "n": 165.1, "v": 79.6}, {"s": "SMA 10", "n": 166.8, "v": 78.66},
      {"s": "SMA 10", "n": 168.5, "v": 77.96}, {"s": "SMA 10", "n": 170.1, "v": 78.38}, {"s": "SMA 10", "n": 171.8, "v": 79.01},
      {"s": "SMA 10", "n": 173.4, "v": 79.71}, {"s": "SMA 10", "n": 175.1, "v": 80.23}, {"s": "SMA 10", "n": 176.8, "v": 80.57},
      {"s": "SMA 10", "n": 178.5, "v": 81.1}, {"s": "SMA 10", "n": 180.1, "v": 81.62}, {"s": "SMA 10", "n": 181.8, "v": 82.14},
      {"s": "SMA 10", "n": 183.5, "v": 82.14}, {"s": "SMA 10", "n": 185.1, "v": 81.79}, {"s": "SMA 10", "n": 186.8, "v": 81.45},
      {"s": "SMA 10", "n": 188.5, "v": 82.32}, {"s": "SMA 10", "n": 190.1, "v": 82.42}, {"s": "SMA 10", "n": 191.8, "v": 81.79},
      {"s": "SMA 10", "n": 193.5, "v": 81.45}, {"s": "SMA 10", "n": 195.1, "v": 81.1}, {"s": "SMA 10", "n": 196.8, "v": 79.01},
      {"s": "SMA 50", "n": 16.8, "v": 65.0}, {"s": "SMA 50", "n": 20.7, "v": 67.3}, {"s": "SMA 50", "n": 25.1, "v": 70.4},
      {"s": "SMA 50", "n": 29.6, "v": 72.9}, {"s": "SMA 50", "n": 33.5, "v": 74.83}, {"s": "SMA 50", "n": 35.7, "v": 75.87},
      {"s": "SMA 50", "n": 38.5, "v": 76.92}, {"s": "SMA 50", "n": 41.2, "v": 78.31}, {"s": "SMA 50", "n": 44.0, "v": 79.71},
      {"s": "SMA 50", "n": 46.8, "v": 80.75}, {"s": "SMA 50", "n": 49.0, "v": 81.52}, {"s": "SMA 50", "n": 51.2, "v": 81.86},
      {"s": "SMA 50", "n": 52.9, "v": 82.14}, {"s": "SMA 50", "n": 55.1, "v": 82.04}, {"s": "SMA 50", "n": 57.9, "v": 81.97},
      {"s": "SMA 50", "n": 61.2, "v": 81.86}, {"s": "SMA 50", "n": 65.1, "v": 81.7}, {"s": "SMA 50", "n": 67.9, "v": 81.27},
      {"s": "SMA 50", "n": 70.7, "v": 81.17}, {"s": "SMA 50", "n": 72.9, "v": 81.1}, {"s": "SMA 50", "n": 75.1, "v": 80.47},
      {"s": "SMA 50", "n": 77.3, "v": 80.47}, {"s": "SMA 50", "n": 80.1, "v": 80.68}, {"s": "SMA 50", "n": 82.9, "v": 81.1},
      {"s": "SMA 50", "n": 85.7, "v": 81.79}, {"s": "SMA 50", "n": 88.5, "v": 82.67}, {"s": "SMA 50", "n": 91.2, "v": 83.54},
      {"s": "SMA 50", "n": 94.0, "v": 84.23}, {"s": "SMA 50", "n": 96.8, "v": 84.8}, {"s": "SMA 50", "n": 100.7, "v": 85.56},
      {"s": "SMA 50", "n": 105.1, "v": 86.32}, {"s": "SMA 50", "n": 109.0, "v": 87.02}, {"s": "SMA 50", "n": 111.2, "v": 87.44},
      {"s": "SMA 50", "n": 113.4, "v": 88.24}, {"s": "SMA 50", "n": 115.7, "v": 88.76}, {"s": "SMA 50", "n": 117.9, "v": 89.46},
      {"s": "SMA 50", "n": 120.1, "v": 90.09}, {"s": "SMA 50", "n": 122.3, "v": 90.51}, {"s": "SMA 50", "n": 124.6, "v": 91.03},
      {"s": "SMA 50", "n": 126.8, "v": 91.2}, {"s": "SMA 50", "n": 129.0, "v": 91.31}, {"s": "SMA 50", "n": 131.8, "v": 91.5},
      {"s": "SMA 50", "n": 133.5, "v": 91.62}, {"s": "SMA 50", "n": 137.3, "v": 91.83}, {"s": "SMA 50", "n": 140.7, "v": 91.62},
      {"s": "SMA 50", "n": 144.0, "v": 91.03}, {"s": "SMA 50", "n": 146.8, "v": 90.51}, {"s": "SMA 50", "n": 149.6, "v": 89.63},
      {"s": "SMA 50", "n": 152.3, "v": 88.94}, {"s": "SMA 50", "n": 155.1, "v": 88.24}, {"s": "SMA 50", "n": 157.9, "v": 87.72},
      {"s": "SMA 50", "n": 160.7, "v": 86.85}, {"s": "SMA 50", "n": 163.5, "v": 86.1}, {"s": "SMA 50", "n": 165.1, "v": 85.6},
      {"s": "SMA 50", "n": 167.9, "v": 84.93}, {"s": "SMA 50", "n": 171.8, "v": 84.23}, {"s": "SMA 50", "n": 175.7, "v": 83.47},
      {"s": "SMA 50", "n": 179.0, "v": 82.84}, {"s": "SMA 50", "n": 182.3, "v": 82.14}, {"s": "SMA 50", "n": 185.7, "v": 81.62},
      {"s": "SMA 50", "n": 189.0, "v": 81.1}, {"s": "SMA 50", "n": 192.3, "v": 80.68}, {"s": "SMA 50", "n": 195.1, "v": 80.33},
      {"s": "SMA 50", "n": 197.0, "v": 79.88},
      {"s": "SMA 200", "n": 86.0, "v": 65.0}, {"s": "SMA 200", "n": 95.9, "v": 67.1}, {"s": "SMA 200", "n": 101.5, "v": 68.5},
      {"s": "SMA 200", "n": 107.1, "v": 69.74}, {"s": "SMA 200", "n": 112.6, "v": 71.3}, {"s": "SMA 200", "n": 117.9, "v": 72.39},
      {"s": "SMA 200", "n": 124.6, "v": 73.95}, {"s": "SMA 200", "n": 130.1, "v": 74.83}, {"s": "SMA 200", "n": 135.7, "v": 75.87},
      {"s": "SMA 200", "n": 141.2, "v": 76.92}, {"s": "SMA 200", "n": 146.8, "v": 77.79}, {"s": "SMA 200", "n": 152.3, "v": 78.48},
      {"s": "SMA 200", "n": 157.9, "v": 79.18}, {"s": "SMA 200", "n": 163.5, "v": 79.88}, {"s": "SMA 200", "n": 169.0, "v": 80.75},
      {"s": "SMA 200", "n": 174.6, "v": 81.62}, {"s": "SMA 200", "n": 180.1, "v": 82.49}, {"s": "SMA 200", "n": 185.7, "v": 83.19},
      {"s": "SMA 200", "n": 191.2, "v": 83.82}, {"s": "SMA 200", "n": 197.0, "v": 84.13}
    ],
    "trend": [{"n": 115, "v": 97.65}, {"n": 197, "v": 87.8}]
  },
  "resolve": {"scale": {"y": "independent"}, "axis": {"y": "independent"}},
  "layer": [
    {
      "data": {"name": "px"},
      "mark": {"type": "bar", "size": 5},
      "encoding": {
        "x": {
          "field": "n", "type": "quantitative",
          "scale": {"domain": [-2.383, 197.117], "nice": false, "zero": false},
          "axis": {
            "orient": "bottom",
            "values": [3, 24, 45, 67, 87, 109, 128, 147, 170, 191],
            "labelExpr": "['Aug','Sep','Oct','Nov','Dec','2021','Feb','Mar','Apr','May'][indexof([3,24,45,67,87,109,128,147,170,191], datum.value)]",
            "grid": true, "gridDash": [3, 3], "gridColor": "#cccccc",
            "labelPadding": 6, "labelFlush": false
          }
        },
        "y": {
          "field": "v", "type": "quantitative",
          "scale": {"domain": [0, 1108], "nice": false},
          "axis": {"orient": "left", "values": [50, 100, 150, 200], "labelExpr": "datum.value + 'M'", "grid": false, "labelPadding": 2}
        },
        "color": {"condition": {"test": "datum.dir == 'u'", "value": "#a8dca0"}, "value": "#ffc0c0"}
      }
    },
    {
      "data": {"name": "px"},
      "layer": [
        {
          "data": {"name": "sma"},
          "transform": [{"filter": "datum.s == 'SMA 200'"}],
          "mark": {"type": "line", "color": "#f5dca8", "strokeWidth": 1.4, "clip": true},
          "encoding": {
            "x": {"field": "n", "type": "quantitative"},
            "y": {"field": "v", "type": "quantitative", "scale": {"domain": [65, 100], "nice": false, "zero": false},
              "axis": {"orient": "right", "values": [65, 70, 75, 80, 85, 90, 95, 100], "format": ".2f",
                "grid": true, "gridDash": [3, 3], "gridColor": "#cccccc",
                "gridOpacity": {"condition": {"test": "datum.value == 65", "value": 0}, "value": 1},
                "labelPadding": 8}}
          }
        },
        {
          "data": {"name": "sma"},
          "transform": [{"filter": "datum.s == 'SMA 50'"}],
          "mark": {"type": "line", "color": "#ffa866", "strokeWidth": 1.4, "clip": true},
          "encoding": {
            "x": {"field": "n", "type": "quantitative"},
            "y": {"field": "v", "type": "quantitative"}
          }
        },
        {
          "data": {"name": "sma"},
          "transform": [{"filter": "datum.s == 'SMA 10'"}],
          "mark": {"type": "line", "color": "#f4b0ea", "strokeWidth": 1.4, "clip": true},
          "encoding": {
            "x": {"field": "n", "type": "quantitative"},
            "y": {"field": "v", "type": "quantitative"}
          }
        },
        {
          "data": {"name": "trend"},
          "mark": {"type": "line", "color": "#c058d4", "strokeWidth": 1.6},
          "encoding": {
            "x": {"field": "n", "type": "quantitative"},
            "y": {"field": "v", "type": "quantitative"}
          }
        },
        {
          "mark": {"type": "rule", "color": "#2e6fd8", "strokeWidth": 1.2},
          "encoding": {"y": {"datum": 73.85, "type": "quantitative"}}
        },
        {
          "mark": {"type": "rule", "color": "black", "strokeWidth": 1},
          "encoding": {
            "x": {"field": "n", "type": "quantitative"},
            "y": {"field": "l", "type": "quantitative", "scale": {"domain": [65, 100], "nice": false, "zero": false}},
            "y2": {"field": "h"}
          }
        },
        {
          "mark": {"type": "bar", "size": 4, "stroke": "black", "strokeWidth": 1},
          "encoding": {
            "x": {"field": "n", "type": "quantitative"},
            "y": {"field": "o", "type": "quantitative", "scale": {"domain": [65, 100], "nice": false, "zero": false}},
            "y2": {"field": "c"},
            "fill": {"condition": {"test": "datum.c >= datum.o", "value": "#14dc14"}, "value": "#ee1111"}
          }
        },
        {
          "data": {"values": [{}]},
          "mark": {"type": "rect", "color": "#ffff33"},
          "encoding": {
            "x": {"datum": 198.12, "type": "quantitative"}, "x2": {"datum": 203.12},
            "y": {"datum": 73.49, "type": "quantitative"}, "y2": {"datum": 72.44}
          }
        },
        {
          "data": {"values": [{}]},
          "mark": {"type": "text", "text": "72.91", "fontSize": 11, "fontWeight": "bold", "color": "#888888", "align": "center", "baseline": "middle"},
          "encoding": {"x": {"datum": 200.62, "type": "quantitative"}, "y": {"datum": 72.91, "type": "quantitative"}}
        },
        {
          "data": {"values": [{}]},
          "mark": {"type": "text", "text": "AMD", "fontSize": 31, "fontWeight": "bold", "color": "#808080", "align": "left", "baseline": "alphabetic"},
          "encoding": {"x": {"datum": -2.2, "type": "quantitative"}, "y": {"datum": 100.86, "type": "quantitative"}}
        },
        {
          "data": {"values": [{}]},
          "mark": {"type": "text", "text": "May 11", "fontSize": 11.2, "color": "#808080", "align": "left", "baseline": "alphabetic"},
          "encoding": {"x": {"datum": 14.28, "type": "quantitative"}, "y": {"datum": 100.86, "type": "quantitative"}}
        },
        {
          "data": {"values": [{}]},
          "mark": {"type": "text", "text": "O:73.30 H:75.99 L:72.84 C:72.91", "fontSize": 11.2, "color": "#808080", "align": "left", "baseline": "alphabetic"},
          "encoding": {"x": {"datum": 23.07, "type": "quantitative"}, "y": {"datum": 100.86, "type": "quantitative"}}
        },
        {
          "data": {"values": [{}]},
          "mark": {"type": "text", "text": "Vol:741.81K", "fontSize": 11.2, "color": "#808080", "align": "left", "baseline": "alphabetic"},
          "encoding": {"x": {"datum": 53.62, "type": "quantitative"}, "y": {"datum": 100.86, "type": "quantitative"}}
        },
        {
          "data": {"values": [{}]},
          "mark": {"type": "text", "text": "-3.08 (4.05%)", "fontSize": 13, "color": "#dd2222", "align": "right", "baseline": "alphabetic"},
          "encoding": {"x": {"datum": 195.4, "type": "quantitative"}, "y": {"datum": 100.82, "type": "quantitative"}}
        },
        {
          "data": {"values": [{}]},
          "mark": {"type": "text", "text": "SMA 50", "fontSize": 10.5, "fontWeight": "bold", "color": "#ffa060", "align": "left", "baseline": "alphabetic"},
          "encoding": {"x": {"datum": -7.22, "type": "quantitative"}, "y": {"datum": 98.76, "type": "quantitative"}}
        },
        {
          "data": {"values": [{}]},
          "mark": {"type": "text", "text": "SMA 200", "fontSize": 10.5, "fontWeight": "bold", "color": "#f0d8a8", "align": "left", "baseline": "alphabetic"},
          "encoding": {"x": {"datum": -7.22, "type": "quantitative"}, "y": {"datum": 97.45, "type": "quantitative"}}
        },
        {
          "data": {"values": [{}]},
          "mark": {"type": "text", "text": "SMA 10", "fontSize": 10.5, "fontWeight": "bold", "color": "#f0a8e8", "align": "left", "baseline": "alphabetic"},
          "encoding": {"x": {"datum": -7.22, "type": "quantitative"}, "y": {"datum": 96.16, "type": "quantitative"}}
        },
        {
          "data": {"values": [{}]},
          "mark": {"type": "text", "text": "DAILY", "fontSize": 15, "fontWeight": "bold", "color": "#dddddd", "align": "center", "baseline": "middle", "angle": 270},
          "encoding": {"x": {"datum": -4.47, "type": "quantitative"}, "y": {"datum": 85.87, "type": "quantitative"}}
        }
      ]
    }
  ]
}
